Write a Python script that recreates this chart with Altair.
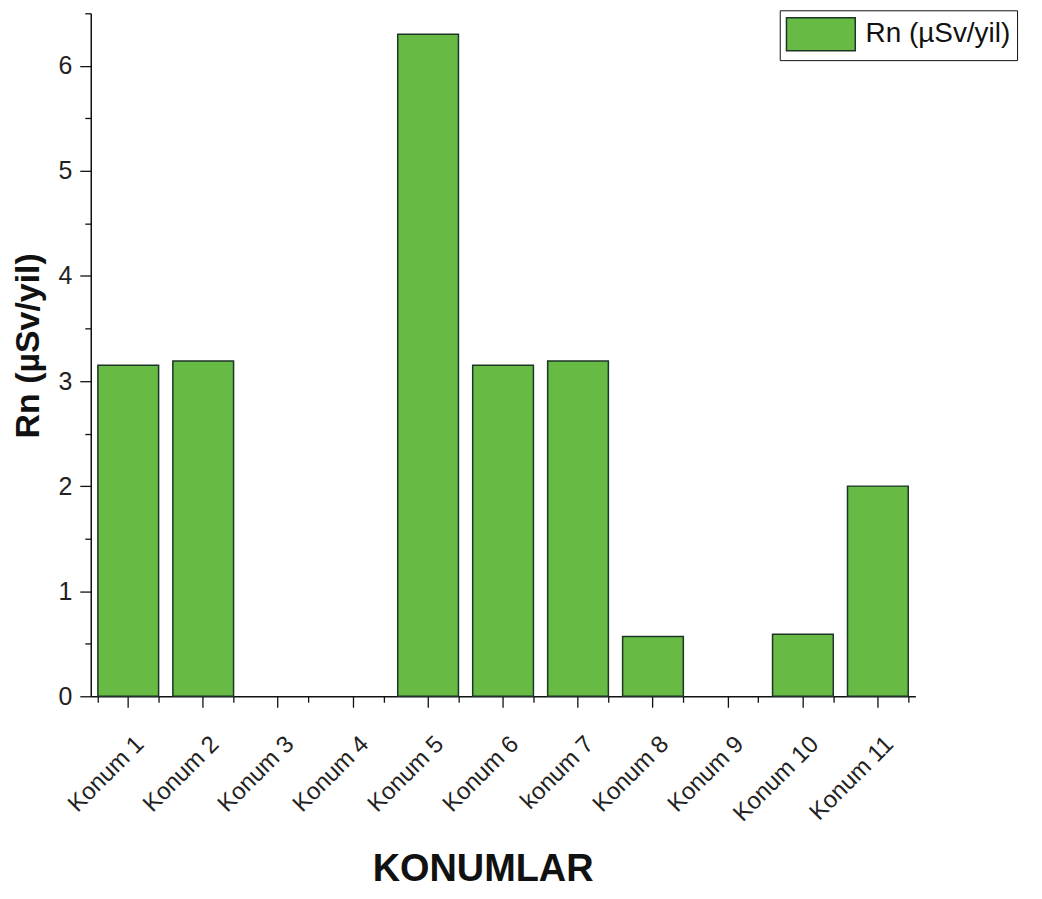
import altair as alt
import pandas as pd

categories = ["Konum 1", "Konum 2", "Konum 3", "Konum 4", "Konum 5", "Konum 6",
              "konum 7", "Konum 8", "Konum 9", "Konum 10", "Konum 11"]
values = [3.15, 3.19, 0.0, 0.0, 6.30, 3.15, 3.19, 0.57, 0.0, 0.59, 2.0]
series_name = "Rn (µSv/yil)"
y_major = [0, 1, 2, 3, 4, 5, 6]
y_minor = [0.5, 1.5, 2.5, 3.5, 4.5, 5.5, 6.5]

df = pd.DataFrame({"konum": categories, "val": values, "series": [series_name] * len(categories)})

FONT = "Liberation Sans"
GREEN = "#67bb45"
EDGE = "#1c3526"

xscale = alt.Scale(paddingInner=0.19, paddingOuter=0.095)
yscale = alt.Scale(domain=[0, 6.5], nice=False)

bars = alt.Chart(df).mark_bar(stroke=EDGE).encode(
    x=alt.X("konum:N", sort=categories, scale=xscale,
            axis=alt.Axis(title="KONUMLAR", orient="bottom", labelAngle=-45,
                          labelAlign="right", labelBaseline="middle",
                          labelFontSize=24, labelFont=FONT, labelColor="#222",
                          labelPadding=33, labelOffset=12,
                          tickSize=11, tickColor="#111", tickWidth=1.3,
                          domainColor="#111", domainWidth=1.5,
                          titleFont=FONT, titleFontSize=38, titleFontWeight="bold",
                          titleColor="#111", titleX=393, titleY=174,
                          titleBaseline="middle", titleAlign="center", grid=False)),
    y=alt.Y("val:Q", scale=yscale,
            axis=alt.Axis(title=series_name, orient="left", values=y_major,
                          labelFontSize=25, labelFont=FONT, labelColor="#222",
                          labelPadding=8, tickSize=11, tickColor="#111", tickWidth=1.3,
                          domainColor="#111", domainWidth=1.5,
                          titleFont=FONT, titleFontSize=34, titleFontWeight="bold",
                          titleColor="#111", titleX=-62, titleY=333, titleAngle=-90,
                          titleBaseline="middle", titleAlign="center", grid=False)),
    color=alt.Color("series:N", scale=alt.Scale(range=[GREEN]),
                    legend=alt.Legend(title=None, orient="none", legendX=691, legendY=-3,
                                      symbolType="M-1,-0.96H3V0.96H-1Z", symbolSize=1190,
                                      symbolStrokeColor=EDGE, symbolStrokeWidth=1.5,
                                      symbolFillColor=GREEN,
                                      labelFont=FONT, labelFontSize=28, labelColor="#111",
                                      labelOffset=44, padding=6, strokeColor="#111",
                                      fillColor="white")),
    strokeWidth=alt.condition(alt.datum.val > 0, alt.value(1.5), alt.value(0)),
)

minor = alt.Chart(df).mark_tick(opacity=0).encode(
    x=alt.X("konum:N", sort=categories, scale=xscale,
            axis=alt.Axis(title=None, orient="bottom", labels=False, domain=False,
                          tickBand="extent", tickSize=6, tickColor="#111", tickWidth=1.3,
                          grid=False)),
    y=alt.Y("val:Q", scale=yscale,
            axis=alt.Axis(title=None, orient="left", labels=False, domain=False,
                          values=y_minor, tickSize=6, tickColor="#111", tickWidth=1.3,
                          grid=False)),
)

chart = alt.layer(bars, minor).resolve_axis(x="independent", y="independent").properties(
    width=827, height=685,
    autosize=alt.AutoSizeParams(type="none"),
    padding={"left": 83, "top": 4, "right": 119, "bottom": 194},
).configure(background="white").configure_view(stroke=None)

chart.save("out.html", embed_options={"renderer": "svg", "actions": False})
